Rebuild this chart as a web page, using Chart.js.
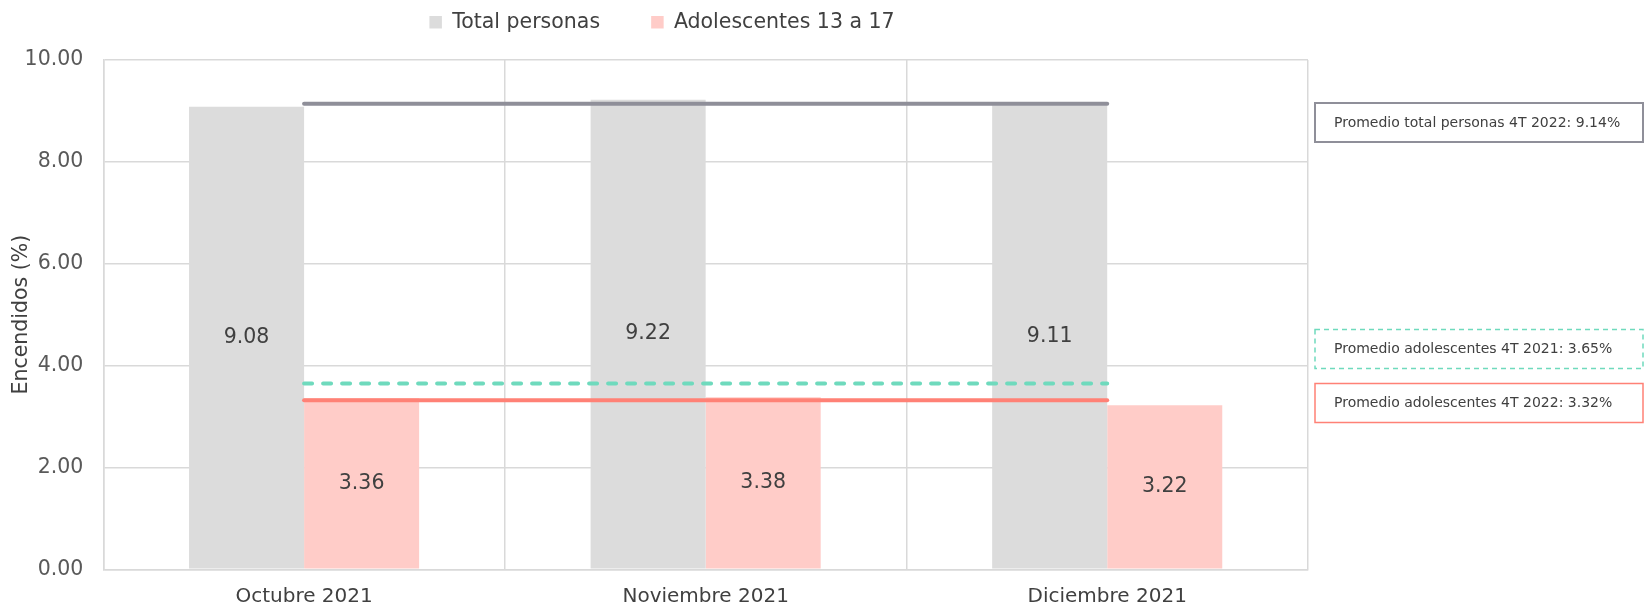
<!DOCTYPE html>
<html>
<head>
<meta charset="utf-8">
<script src="https://cdn.jsdelivr.net/npm/chart.js@4/dist/chart.umd.min.js"></script>
<style>
  html, body { margin: 0; padding: 0; background: #fff; }
</style>
</head>
<body>
<canvas id="myChart" width="1644" height="608"></canvas>
<script>
// data
const months = ['Octubre 2021', 'Noviembre 2021', 'Diciembre 2021'];
const totalPersonas = [9.08, 9.22, 9.11];
const adolescentes = [3.36, 3.38, 3.22];
const promTotal2022 = [9.14, 9.14, 9.14];
const promAdol2021 = [3.65, 3.65, 3.65];
const promAdol2022 = [3.32, 3.32, 3.32];
const yTicks = [0, 2, 4, 6, 8, 10];
const boxLabels = [
  'Promedio total personas 4T 2022: 9.14%',
  'Promedio adolescentes 4T 2021: 3.65%',
  'Promedio adolescentes 4T 2022: 3.32%'
];

const FONT = '"DejaVu Sans", sans-serif';
const GRID = '#D9D9D9';
const GRAY_LINE = '#8F8F99';
const TEAL = '#6FDABD';
const SALMON = '#FF8176';

// fixed legend height so the plot starts where the reference does,
// and nudge the legend a bit to the right
const legendHeight = {
  id: 'legendHeight',
  beforeLayout(chart) {
    const lg = chart.legend;
    if (lg && !lg._fixed) {
      const fit = lg.fit;
      lg.fit = function () {
        fit.call(this);
        this.height = 60;
      };
      lg._fixed = true;
    }
  },
  afterLayout(chart) {
    const lg = chart.legend;
    if (lg) {
      lg.left += 8;
      lg.right += 8;
    }
  }
};

// value labels centred in each bar
const valueLabels = {
  id: 'valueLabels',
  afterDatasetsDraw(chart) {
    const ctx = chart.ctx;
    ctx.save();
    ctx.font = '20.5px ' + FONT;
    ctx.fillStyle = '#404040';
    ctx.textAlign = 'center';
    ctx.textBaseline = 'middle';
    chart.data.datasets.forEach((ds, i) => {
      if (ds.type !== 'bar') return;
      chart.getDatasetMeta(i).data.forEach((bar, j) => {
        const p = bar.getProps(['x', 'y', 'base'], true);
        ctx.fillText(ds.data[j].toFixed(2), p.x, (p.y + p.base) / 2);
      });
    });
    ctx.restore();
  }
};

// text boxes at the right of the plot
const noteBoxes = {
  id: 'noteBoxes',
  afterDraw(chart) {
    const ctx = chart.ctx;
    const left = chart.chartArea.right + 7;
    const styles = [
      { top: 103, color: GRAY_LINE, dash: [], width: 2 },
      { top: 329.5, color: TEAL, dash: [5, 4], width: 1.5 },
      { top: 383.5, color: SALMON, dash: [], width: 1.5 }
    ];
    ctx.save();
    ctx.font = '14px ' + FONT;
    ctx.textBaseline = 'middle';
    styles.forEach((s, i) => {
      ctx.strokeStyle = s.color;
      ctx.lineWidth = s.width;
      ctx.setLineDash(s.dash);
      ctx.strokeRect(left, s.top, 1643 - left, 39);
      ctx.fillStyle = '#404040';
      ctx.fillText(boxLabels[i], left + 19, s.top + 20);
    });
    ctx.restore();
  }
};

const legendNames = ['Total personas', 'Adolescentes 13 a 17'];

const ctx = document.getElementById('myChart').getContext('2d');
const myChart = new Chart(ctx, {
  data: {
    labels: months,
    datasets: [
      {
        type: 'line',
        label: 'Promedio total personas 4T 2022',
        data: promTotal2022,
        borderColor: GRAY_LINE,
        borderWidth: 4,
        borderCapStyle: 'round',
        pointRadius: 0,
        order: 0
      },
      {
        type: 'line',
        label: 'Promedio adolescentes 4T 2021',
        data: promAdol2021,
        borderColor: TEAL,
        borderWidth: 4,
        borderDash: [8, 11],
        borderCapStyle: 'round',
        pointRadius: 0,
        order: 0
      },
      {
        type: 'line',
        label: 'Promedio adolescentes 4T 2022',
        data: promAdol2022,
        borderColor: SALMON,
        borderWidth: 4,
        borderCapStyle: 'round',
        pointRadius: 0,
        order: 0
      },
      {
        type: 'bar',
        label: legendNames[0],
        data: totalPersonas,
        backgroundColor: '#DCDCDC',
        categoryPercentage: 0.573,
        barPercentage: 1,
        order: 1
      },
      {
        type: 'bar',
        label: legendNames[1],
        data: adolescentes,
        backgroundColor: '#FFCCC8',
        categoryPercentage: 0.573,
        barPercentage: 1,
        order: 1
      }
    ]
  },
  options: {
    responsive: false,
    animation: false,
    layout: { padding: { left: 0, right: 336, top: 0, bottom: 0 } },
    plugins: {
      tooltip: { enabled: false },
      legend: {
        position: 'top',
        labels: {
          filter: (item, data) => data.datasets[item.datasetIndex].type === 'bar',
          generateLabels: chart => {
            const items = Chart.defaults.plugins.legend.labels.generateLabels(chart);
            // extra room after the first entry, as in the reference
            items.forEach(it => { if (it.text === legendNames[0]) it.text = it.text + '      '; });
            return items;
          },
          boxWidth: 12.5,
          boxHeight: 12.5,
          padding: 12,
          color: '#404040',
          font: { family: FONT, size: 20.5 }
        }
      }
    },
    scales: {
      x: {
        offset: true,
        grid: { color: GRID, lineWidth: 1.5, drawTicks: false, offset: true },
        border: { color: GRID, width: 1.5 },
        ticks: { color: '#404040', padding: 15, font: { family: FONT, size: 20 } },
        afterFit: s => { s.height = 38.7; }
      },
      y: {
        min: 0,
        max: 10,
        afterBuildTicks: s => { s.ticks = yTicks.map(v => ({ value: v })); },
        grid: { color: GRID, lineWidth: 1.5, drawTicks: false },
        border: { color: GRID, width: 1.5 },
        ticks: {
          color: '#595959',
          padding: 20,
          font: { family: FONT, size: 20.5 },
          callback: v => Number(v).toFixed(2)
        },
        title: {
          display: true,
          text: 'Encendidos (%)',
          color: '#404040',
          font: { family: FONT, size: 20.5 },
          padding: { top: 9, bottom: 0 }
        },
        afterFit: s => { s.width = 103.3; }
      }
    }
  },
  plugins: [legendHeight, valueLabels, noteBoxes]
});
</script>
</body>
</html>
